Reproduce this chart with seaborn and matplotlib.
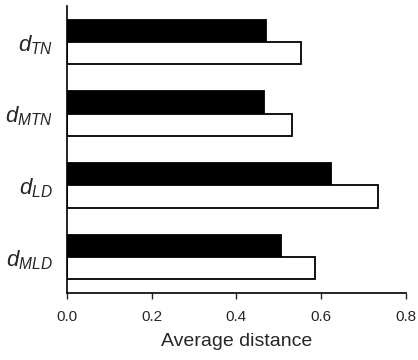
import matplotlib
matplotlib.use("Agg")
import matplotlib.pyplot as plt
import seaborn as sns
import pandas as pd

# values
categories = [r"$d_{TN}$", r"$d_{MTN}$", r"$d_{LD}$", r"$d_{MLD}$"]
black_values = [0.470, 0.465, 0.623, 0.505]
white_values = [0.552, 0.532, 0.734, 0.586]
series = ["black", "white"]
x_ticks = [0.0, 0.2, 0.4, 0.6, 0.8]

sns.set_style("ticks")
plt.rcParams["font.family"] = ["Liberation Sans", "DejaVu Sans"]
plt.rcParams["mathtext.fontset"] = "custom"
plt.rcParams["mathtext.it"] = "Liberation Sans:italic"
plt.rcParams["mathtext.rm"] = "Liberation Sans"

df = pd.DataFrame({
    "category": categories * 2,
    "value": black_values + white_values,
    "series": [series[0]] * 4 + [series[1]] * 4,
})

fig = plt.figure(figsize=(4.18, 3.6), dpi=100)
ax = fig.add_axes([0.160, 0.186, 0.8106, 0.797])

sns.barplot(
    data=df, x="value", y="category", hue="series", orient="h",
    palette={"black": "black", "white": "white"},
    edgecolor="black", linewidth=1.3, width=0.62, gap=0,
    errorbar=None, legend=False, ax=ax,
)

ax.set_xlim(0, 0.8)
ax.set_ylim(3.5, -0.5)
ax.set_xticks(x_ticks)
ax.set_xticklabels([f"{t:.1f}" for t in x_ticks], fontsize=11)
ax.tick_params(axis="x", direction="out", length=4.5, width=1.0, pad=8)
ax.tick_params(axis="y", length=0, pad=10, labelsize=16)
ax.set_xlabel("Average distance", fontsize=14, labelpad=6)
ax.set_ylabel("")
for side in ["top", "right"]:
    ax.spines[side].set_visible(False)
for side in ["left", "bottom"]:
    ax.spines[side].set_linewidth(1.2)
    ax.spines[side].set_color("black")

fig.savefig("out.png", dpi=100)
